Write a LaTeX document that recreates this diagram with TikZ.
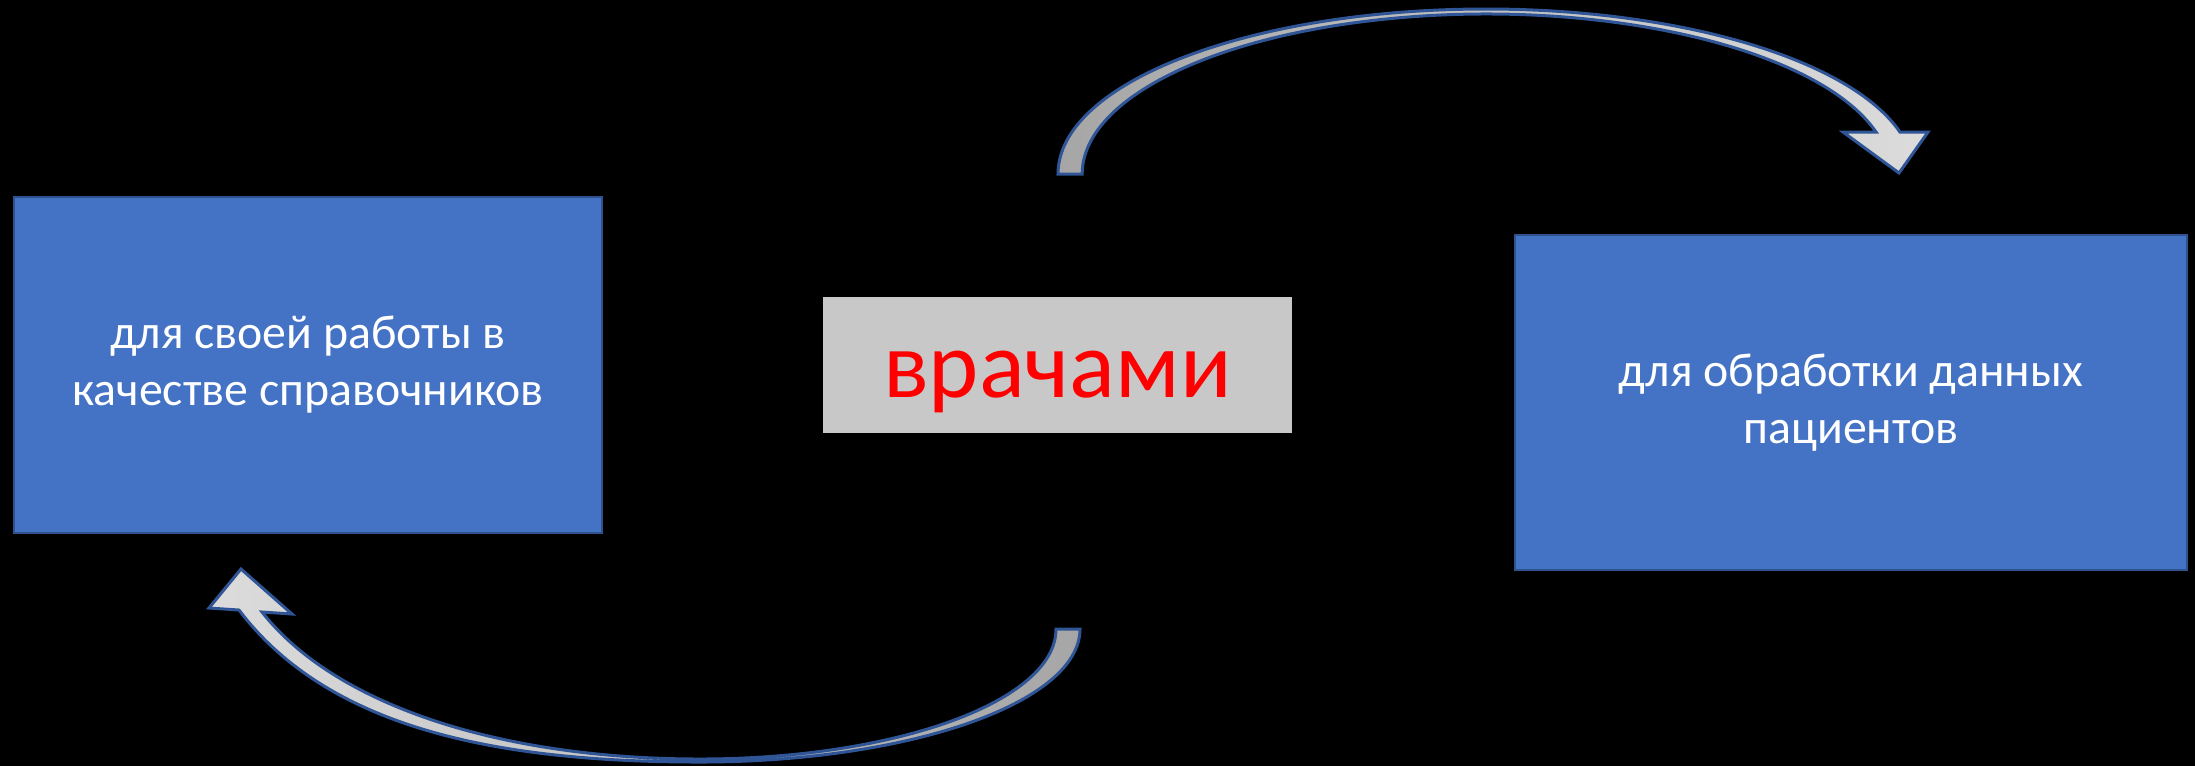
\documentclass[tikz,border=0pt]{standalone}
\usepackage{fontspec}
\setmainfont{Carlito}
\usepackage{xcolor}
\definecolor{boxblue}{HTML}{4472C4}
\definecolor{boxedge}{HTML}{2F528F}
\definecolor{wordgray}{HTML}{C8C8C8}
\definecolor{arrowedge}{HTML}{2F5597}
\definecolor{arrowdark}{HTML}{A6A6A6}
\definecolor{arrowlight}{HTML}{DCDCDC}
\tikzset{
    usebox/.style={draw=boxedge, line width=0.15mm, fill=boxblue, text=white, align=center, inner sep=0pt, font=\fontsize{13.6}{16.2}\selectfont},
    wordbox/.style={fill=wordgray, text=red, inner sep=0pt, minimum width=46.9mm, minimum height=13.6mm, text height=6.4mm, text depth=0pt, font=\fontsize{27.2}{33}\selectfont},
    bendarrow/.style={draw=arrowedge, line width=0.3mm, line join=miter}
}

\begin{document}
\begin{tikzpicture}[x=0.1mm, y=-0.1mm]
    \useasboundingbox (0,0) rectangle (2195,766);
    \fill[black] (0,0) rectangle (2195,766);

    \node[usebox, minimum width=58.8mm, minimum height=33.6mm] (reference) at (308,365) {для своей работы в\\качестве справочников};
    \node[wordbox] (doctors) at (1057.5,365) {врачами};
    \node[usebox, minimum width=67.2mm, minimum height=33.5mm] (patients) at (1851,402.5) {для обработки данных\\пациентов};

    % upper bent arrow, towards the patients box
    \coordinate (uptail) at (1058,174);
    \coordinate (uptip) at (1899,173);
    \shadedraw[bendarrow, left color=arrowdark, right color=arrowlight]
        (uptail) arc[start angle=180, end angle=345.25, x radius=428, y radius=165]
        -- (1928,132) -- (uptip) -- (1843,132) -- (1876,132)
        arc[start angle=344.78, end angle=180, x radius=404, y radius=160] -- cycle;

    % lower bent arrow, towards the reference box
    \coordinate (lowtail) at (1080,629);
    \coordinate (lowtip) at (241,569);
    \shadedraw[bendarrow, left color=arrowlight, right color=arrowdark]
        (lowtail) arc[start angle=0, end angle=90, x radius=380, y radius=133]
        .. controls (500,762) and (329.5,729.6) .. (239,610)
        -- (209,608) -- (lowtip) -- (292,614) -- (262,612)
        .. controls (335,705) and (500,759) .. (700,759)
        arc[start angle=90, end angle=0, x radius=356, y radius=130] -- cycle;
\end{tikzpicture}
\end{document}
